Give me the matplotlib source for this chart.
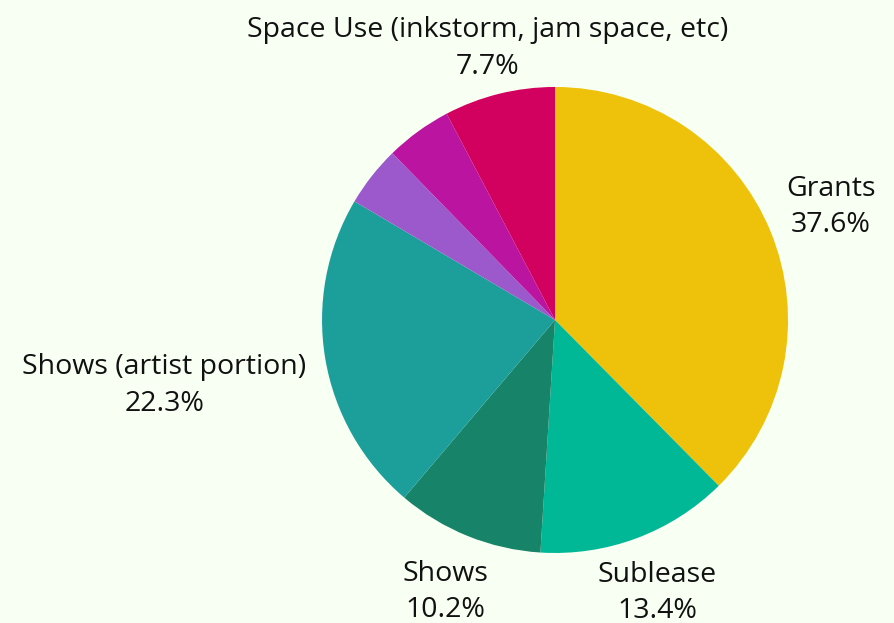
import numpy as np
import matplotlib.pyplot as plt

categories = ["Grants", "Sublease", "Shows", "Shows (artist portion)", "", "",
              "Space Use (inkstorm, jam space, etc)"]
values = [37.6, 13.4, 10.2, 22.3, 4.2, 4.6, 7.7]
colors = ["#EEC20B", "#00B796", "#178368", "#1C9E9B", "#9B59CC", "#BB14A0", "#D2005E"]
# how far out each label sits (pie radius = 1)
label_dist = [1.28, 1.25, 1.26, 1.7, 1.2, 1.2, 1.2]

bg = "#F8FFF3"
fig = plt.figure(figsize=(8.95, 6.23), dpi=100, facecolor=bg)
ax = fig.add_axes([0.3598, 0.1124, 0.5207, 0.748])
ax.set_facecolor(bg)

labels = [f"{c}\n{v}%" if c else "" for c, v in zip(categories, values)]
wedges, texts = ax.pie(values, labels=labels, colors=colors, startangle=90,
                       counterclock=False, radius=1,
                       wedgeprops=dict(linewidth=0),
                       textprops=dict(fontsize=20.5, family="Open Sans", color="#111111"))

for w, t, d in zip(wedges, texts, label_dist):
    ang = np.deg2rad((w.theta1 + w.theta2) / 2)
    t.set_position((d * np.cos(ang), d * np.sin(ang)))
    t.set_ha("center")
    t.set_va("center")
    t.set_linespacing(1.4)
    t.set_clip_on(False)

ax.set_xlim(-1, 1)
ax.set_ylim(-1, 1)
ax.set_aspect("equal")

fig.savefig("out.png", dpi=100, facecolor=bg)
